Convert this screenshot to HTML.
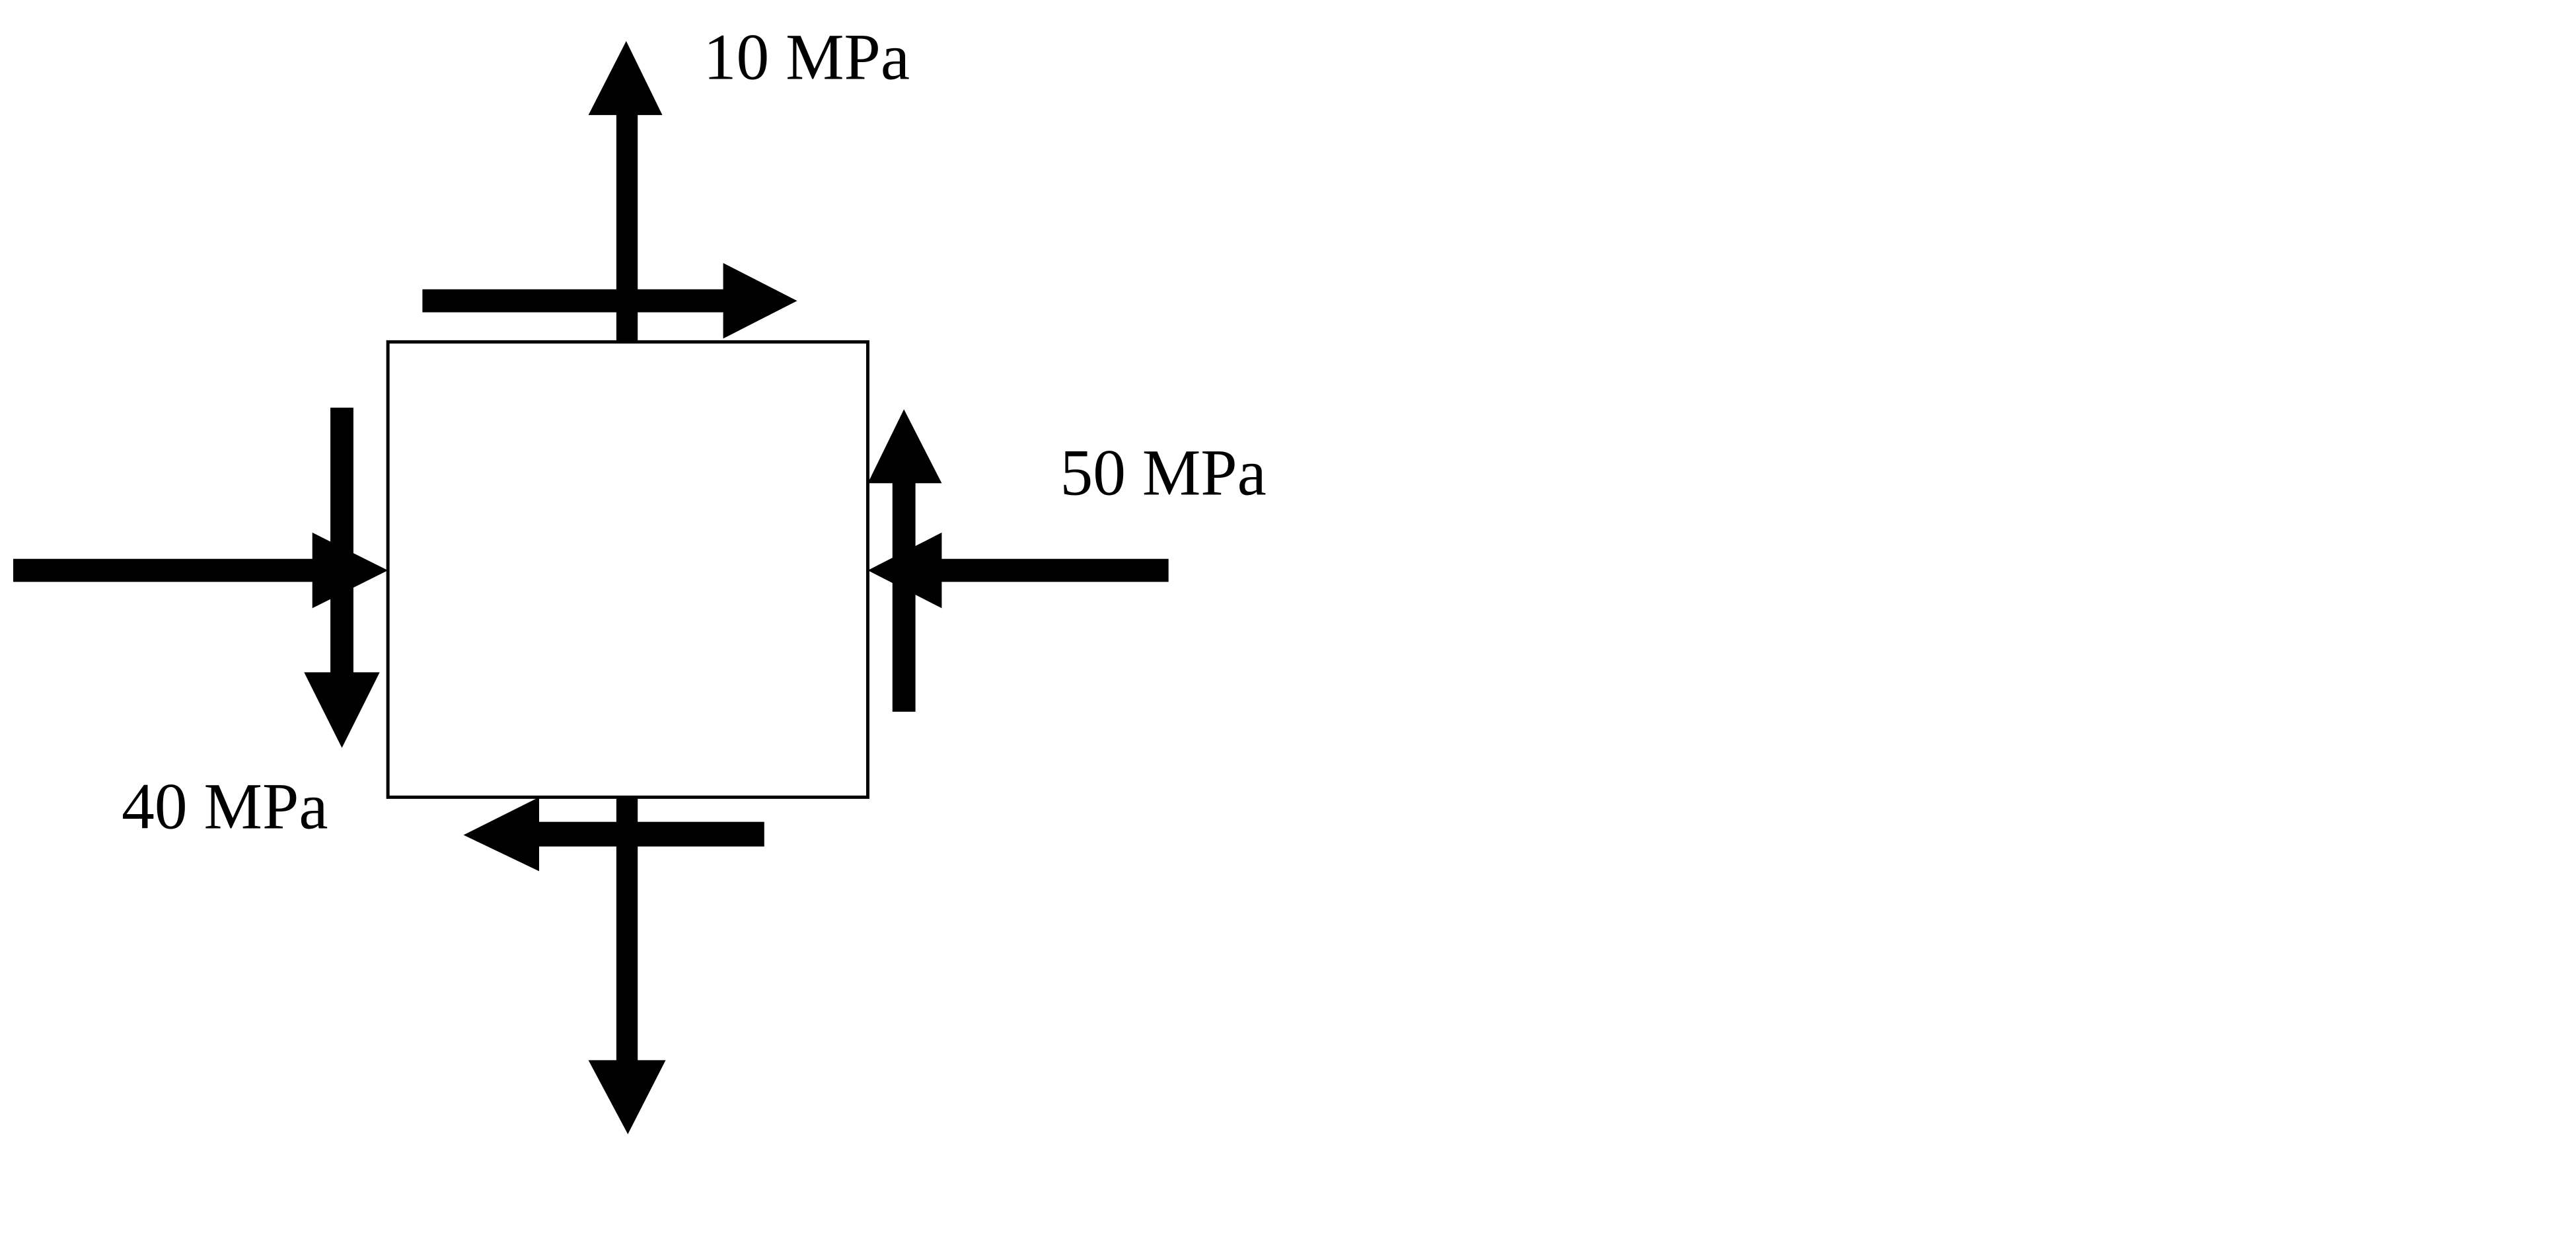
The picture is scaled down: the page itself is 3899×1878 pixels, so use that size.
<!DOCTYPE html>
<html><head><meta charset="utf-8"><style>html,body{margin:0;padding:0;background:#fff;}svg{display:block;}</style></head>
<body>
<svg width="3899" height="1878" viewBox="0 0 1567.4 755.0" xmlns="http://www.w3.org/2000/svg">
<rect x="0" y="0" width="1567.4" height="755" fill="#fff"/>
<rect x="236" y="208" width="292" height="277" fill="none" stroke="#000" stroke-width="2"/>
<g fill="#000">
<g><rect x="375" y="69" width="13" height="139"/><polygon points="358,70 403,70 381,25"/></g>
<g><rect x="257" y="176" width="184" height="14"/><polygon points="440,160 440,206 485,183"/></g>
<g><rect x="375" y="485" width="13" height="161"/><polygon points="358,645 405,645 382,690"/></g>
<g><rect x="327" y="500" width="138" height="15"/><polygon points="328,485 328,530 282,508"/></g>
<g><rect x="8" y="340" width="183" height="14"/><polygon points="190,324 190,370 236,347"/></g>
<g><rect x="201" y="248" width="14" height="162"/><polygon points="185,409 231,409 208,455"/></g>
<g><rect x="572" y="340" width="139" height="14"/><polygon points="573,324 573,370 528,347"/></g>
<g><rect x="543" y="293" width="14" height="140"/><polygon points="528,294 573,294 550,249"/></g>
</g>
<g font-family="'Liberation Serif', serif" font-size="40" fill="#000">
<text x="428" y="48">10 MPa</text>
<text x="645" y="301">50 MPa</text>
<text x="74" y="504">40 MPa</text>
</g>
</svg>
</body></html>
